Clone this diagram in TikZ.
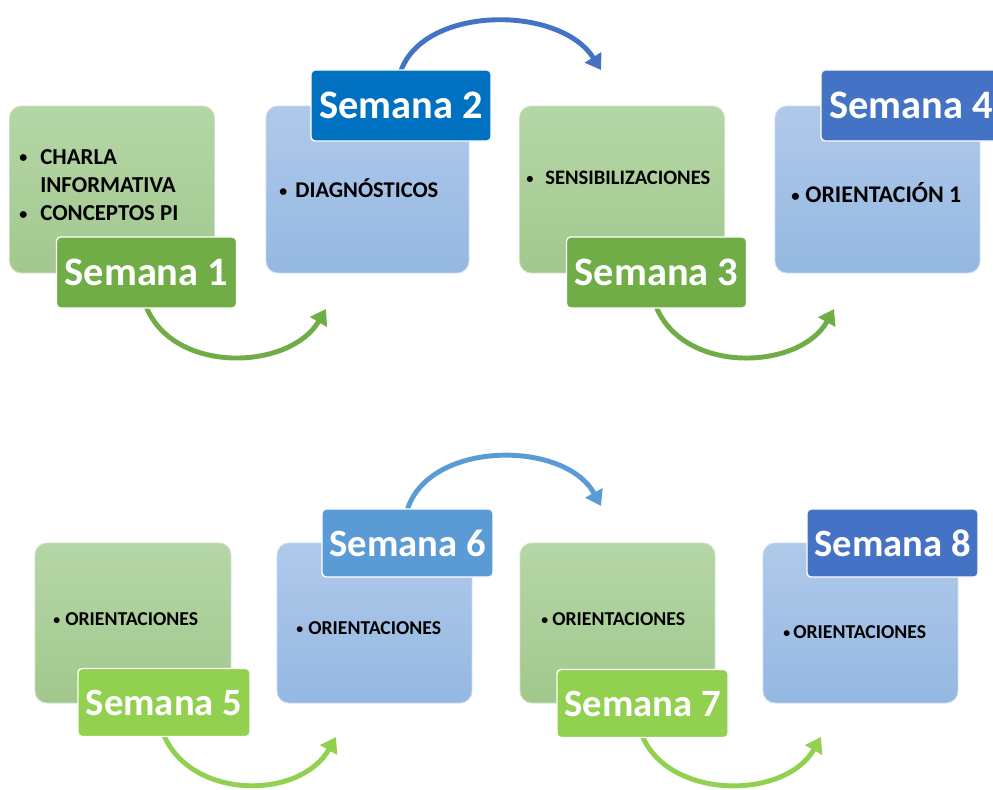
\documentclass[tikz,border=0pt]{standalone}
\usepackage{fontspec}
\setmainfont{Carlito}
\usepackage{graphicx}
\usepackage{tikz}
\usetikzlibrary{positioning}
\usetikzlibrary{arrows.meta}
\definecolor{verdeA}{HTML}{70AD47}
\definecolor{verdeB}{HTML}{92D050}
\definecolor{azulA}{HTML}{0070C0}
\definecolor{azulB}{HTML}{4472C4}
\definecolor{azulC}{HTML}{5B9BD5}
\definecolor{verdeArriba}{HTML}{B5D6A6}
\definecolor{verdeAbajo}{HTML}{A2C88D}
\definecolor{azulArriba}{HTML}{B0C9EA}
\definecolor{azulAbajo}{HTML}{94B8E2}
\newcommand{\vineta}[1]{\makebox[#1][l]{\raisebox{0.12ex}{\scalebox{0.7}{\textbullet}}}}
\tikzset{
  caja/.style={shape=rectangle,rounded corners=0.24cm,inner sep=0,line width=0.5pt},
  cajaverde/.style={caja,top color=verdeArriba,bottom color=verdeAbajo,draw=verdeArriba!70!white},
  cajaazul/.style={caja,top color=azulArriba,bottom color=azulAbajo,draw=azulArriba!70!white},
  semana/.style={shape=rectangle,rounded corners=0.08cm,draw=white,line width=0.8pt,text=white,inner sep=0},
  texto/.style={anchor=west,inner sep=0,align=left},
  flecha/.style={line width=2.8pt,-{Triangle[length=0.3cm,width=0.38cm]}}
}

\begin{document}
\begin{tikzpicture}[x=0.02cm,y=-0.02cm]
  \useasboundingbox (0,0) rectangle (993,789);
  % fila de arriba
  \node[cajaverde,minimum width=4.1cm,minimum height=3.34cm] (b1) at (112,189.5) {};
  \node[cajaazul,minimum width=4.06cm,minimum height=3.34cm] (b2) at (367.5,189.5) {};
  \node[cajaverde,minimum width=4.1cm,minimum height=3.34cm] (b3) at (622,189.5) {};
  \node[cajaazul,minimum width=4.1cm,minimum height=3.34cm] (b4) at (877.5,189.5) {};
  \node[texto,font=\bfseries\fontsize{13}{16}\selectfont] (t1) at (19,185)
    {\vineta{0.42cm}CHARLA\\\hphantom{\vineta{0.42cm}}INFORMATIVA\\\vineta{0.42cm}CONCEPTOS PI};
  \node[texto,font=\bfseries\fontsize{12.8}{15}\selectfont] (t2) at (279,188) {\vineta{0.32cm}DIAGNÓSTICOS};
  \node[texto,font=\bfseries\fontsize{11.7}{14}\selectfont] (t3) at (526,178) {\vineta{0.38cm}SENSIBILIZACIONES};
  \node[texto,font=\bfseries\fontsize{13.6}{16}\selectfont] (t4) at (791,193) {\vineta{0.28cm}ORIENTACIÓN 1};
  % fila de abajo
  \node[cajaverde,minimum width=3.92cm,minimum height=3.2cm] (b5) at (133,623) {};
  \node[cajaazul,minimum width=3.9cm,minimum height=3.2cm] (b6) at (374.5,623) {};
  \node[cajaverde,minimum width=3.9cm,minimum height=3.2cm] (b7) at (617.5,623) {};
  \node[cajaazul,minimum width=3.9cm,minimum height=3.2cm] (b8) at (860.5,623) {};
  \node[texto,font=\bfseries\fontsize{11.2}{13}\selectfont] (t5) at (53,619) {\vineta{0.24cm}ORIENTACIONES};
  \node[texto,font=\bfseries\fontsize{11.2}{13}\selectfont] (t6) at (296,628) {\vineta{0.24cm}ORIENTACIONES};
  \node[texto,font=\bfseries\fontsize{11.2}{13}\selectfont] (t7) at (541,619) {\vineta{0.22cm}ORIENTACIONES};
  \node[texto,font=\bfseries\fontsize{11.2}{13}\selectfont] (t8) at (783,632) {\vineta{0.2cm}ORIENTACIONES};
  % flechas
  \coordinate (f12) at (326,309);
  \coordinate (f23) at (601,70);
  \coordinate (f34) at (834,309);
  \coordinate (f56) at (336,737);
  \coordinate (f67) at (601,506);
  \coordinate (f78) at (821,737);
  \coordinate (s1) at (146.5,272.5);
  \coordinate (s2) at (401,105.5);
  \coordinate (s3) at (656.5,272.5);
  \coordinate (s5) at (164,702.5);
  \coordinate (s6) at (407.5,543);
  \coordinate (s7) at (642.5,703.5);
  \draw[flecha,color=verdeA] (s1) ++(0,35) .. controls (175,375) and (290,370) .. (f12);
  \draw[flecha,color=azulB] (s2) ++(0,-35) .. controls (425,5) and (560,5) .. (f23);
  \draw[flecha,color=verdeA] (s3) ++(0,35) .. controls (685,375) and (800,370) .. (f34);
  \draw[flecha,color=verdeB] (s5) ++(0,33) .. controls (192,800) and (300,800) .. (f56);
  \draw[flecha,color=azulC] (s6) ++(0,-34) .. controls (430,440) and (565,440) .. (f67);
  \draw[flecha,color=verdeB] (s7) ++(0,33) .. controls (670,800) and (785,800) .. (f78);
  % etiquetas
  \node[semana,fill=verdeA,minimum width=3.6cm,minimum height=1.42cm,font=\bfseries\fontsize{23}{27}\selectfont] (e1) at (s1) {Semana 1};
  \node[semana,fill=azulA,minimum width=3.6cm,minimum height=1.42cm,font=\bfseries\fontsize{23}{27}\selectfont] (e2) at (s2) {Semana 2};
  \node[semana,fill=verdeA,minimum width=3.6cm,minimum height=1.42cm,font=\bfseries\fontsize{23}{27}\selectfont] (e3) at (s3) {Semana 3};
  \node[semana,fill=azulB,minimum width=3.6cm,minimum height=1.42cm,font=\bfseries\fontsize{23}{27}\selectfont] (e4) at (911,105.5) {Semana 4};
  \node[semana,fill=verdeB,minimum width=3.44cm,minimum height=1.36cm,font=\bfseries\fontsize{22}{26}\selectfont] (e5) at (s5) {Semana 5};
  \node[semana,fill=azulC,minimum width=3.42cm,minimum height=1.36cm,font=\bfseries\fontsize{22}{26}\selectfont] (e6) at (s6) {Semana 6};
  \node[semana,fill=verdeB,minimum width=3.42cm,minimum height=1.36cm,font=\bfseries\fontsize{22}{26}\selectfont] (e7) at (s7) {Semana 7};
  \node[semana,fill=azulB,minimum width=3.42cm,minimum height=1.36cm,font=\bfseries\fontsize{22}{26}\selectfont] (e8) at (892.5,543) {Semana 8};
\end{tikzpicture}
\end{document}
